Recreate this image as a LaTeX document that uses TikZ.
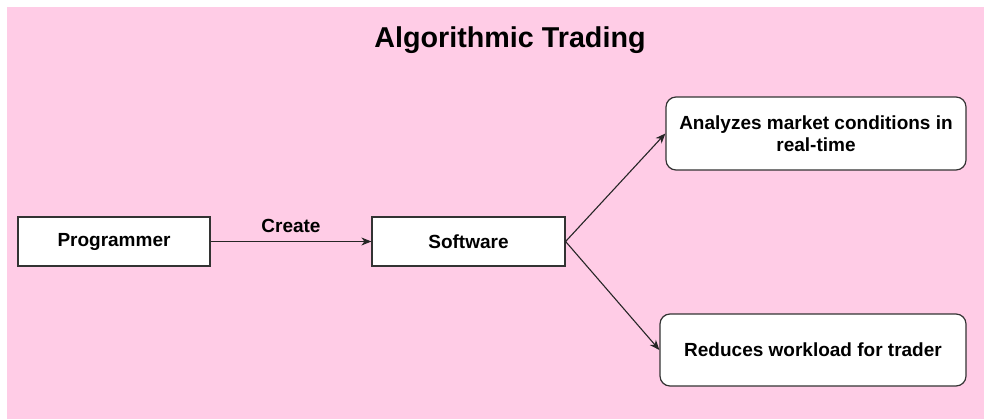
\documentclass[tikz,border=0pt]{standalone}
\usepackage{fontspec}
\setmainfont{Liberation Sans}
\usetikzlibrary{arrows.meta}
\definecolor{bgpink}{RGB}{255,204,230}
\definecolor{edgegray}{RGB}{51,51,51}
\begin{document}
\begin{tikzpicture}[x=1pt,y=-1pt,
  box/.style={draw=edgegray,fill=white,line width=1.2pt,inner sep=0pt,
    font=\fontsize{19}{22}\selectfont\bfseries,align=center},
  rbox/.style={box,rounded corners=10pt},
  conn/.style={draw=black!85,line width=1.1pt,-{Stealth[length=10pt,width=8pt,inset=3pt]}}]
\useasboundingbox (0,0) rectangle (984,419);
\fill[bgpink] (7,7) rectangle (984,419);
\node[font=\fontsize{28.7}{32}\selectfont\bfseries] (title) at (510,40) {Algorithmic Trading};
\node[box,minimum width=192pt,minimum height=49pt] (prog) at (114,241.5) {Programmer};
\node[box,minimum width=193pt,minimum height=49pt] (soft) at (468.5,241.5) {Software};
\node[rbox,minimum width=300pt,minimum height=73pt] (ana) at (816,133.5) {Analyzes market conditions in\\real-time};
\node[rbox,minimum width=306pt,minimum height=72pt] (red) at (813,350) {Reduces workload for trader};
\draw[conn] (prog.east) -- node[above=5pt,font=\fontsize{19}{22}\selectfont\bfseries] (lbl) {Create} (soft.west);
\draw[conn] (soft.east) -- (ana.west);
\draw[conn] (soft.east) -- (red.west);
\end{tikzpicture}
\end{document}
